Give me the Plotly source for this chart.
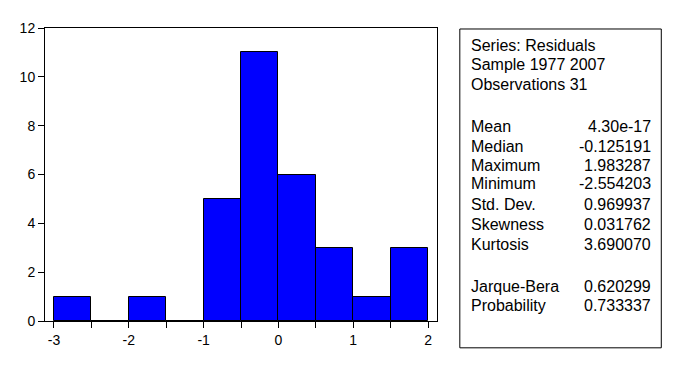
import plotly.graph_objects as go

bin_left = [-3.0, -2.5, -2.0, -1.5, -1.0, -0.5, 0.0, 0.5, 1.0, 1.5]
counts = [1, 0, 1, 0, 5, 11, 6, 3, 1, 3]
bin_width = 0.5

x_tick_vals = [-3, -2.5, -2, -1.5, -1, -0.5, 0, 0.5, 1, 1.5, 2]
x_tick_text = ["-3", "", "-2", "", "-1", "", "0", "", "1", "", "2"]
y_tick_vals = [0, 2, 4, 6, 8, 10, 12]

header_lines = ["Series: Residuals", "Sample 1977 2007", "Observations 31"]
stat_names = ["Mean", "Median", "Maximum", "Minimum", "Std. Dev.", "Skewness", "Kurtosis",
              "Jarque-Bera", "Probability"]
stat_values = ["4.30e-17", "-0.125191", "1.983287", "-2.554203", "0.969937", "0.031762",
               "3.690070", "0.620299", "0.733337"]

OFF = 8  # page body margin
W, H = 678 - OFF, 375 - OFF
L, R, T, B = 42 - OFF, 437 - OFF, 26 - OFF, 321 - OFF


def px(x):
    return (x - OFF - L) / (R - L)


def py(y):
    return 1 - (y - OFF - T) / (B - T)


fig = go.Figure()
fig.add_trace(go.Bar(
    x=[b + bin_width / 2 for b in bin_left],
    y=counts,
    width=bin_width,
    marker=dict(color="#0000FF", line=dict(color="black", width=1)),
    showlegend=False,
))

axis_font = dict(family="Liberation Sans, Arial, sans-serif", size=14, color="black")
fig.update_layout(
    width=W, height=H,
    margin=dict(l=L, r=W - R, t=T, b=H - B, pad=0),
    paper_bgcolor="white", plot_bgcolor="white",
    bargap=0,
    xaxis=dict(range=[-3.12, 2.12], tickvals=x_tick_vals, ticktext=x_tick_text,
               ticks="outside", ticklen=6, tickcolor="black", tickwidth=1,
               showline=True, linecolor="black", linewidth=1, mirror=True,
               showgrid=False, zeroline=False, tickfont=axis_font),
    yaxis=dict(range=[0, 12], tickvals=y_tick_vals, ticks="outside", ticklen=6,
               tickcolor="black", tickwidth=1, showline=True, linecolor="black",
               linewidth=1, mirror=True, showgrid=False, zeroline=False,
               tickfont=axis_font),
    font=axis_font,
)

# stats box
fig.add_shape(type="rect", xref="paper", yref="paper",
              x0=px(460), x1=px(663), y0=py(27), y1=py(348),
              line=dict(color="black", width=1), fillcolor="white")

text_font = dict(family="Liberation Sans, Arial, sans-serif", size=16, color="black")
header_y = [44, 63, 83]
stat_y = [125, 145, 164, 183, 204, 224, 244, 286, 305]
for t, y in zip(header_lines, header_y):
    fig.add_annotation(x=px(469), y=py(y), xref="paper", yref="paper", text=t,
                       showarrow=False, xanchor="left", yanchor="middle", font=text_font)
for n, v, y in zip(stat_names, stat_values, stat_y):
    fig.add_annotation(x=px(469), y=py(y), xref="paper", yref="paper", text=n,
                       showarrow=False, xanchor="left", yanchor="middle", font=text_font)
    fig.add_annotation(x=px(655), y=py(y), xref="paper", yref="paper", text=v,
                       showarrow=False, xanchor="right", yanchor="middle", font=text_font)

fig.write_html("out.html")
